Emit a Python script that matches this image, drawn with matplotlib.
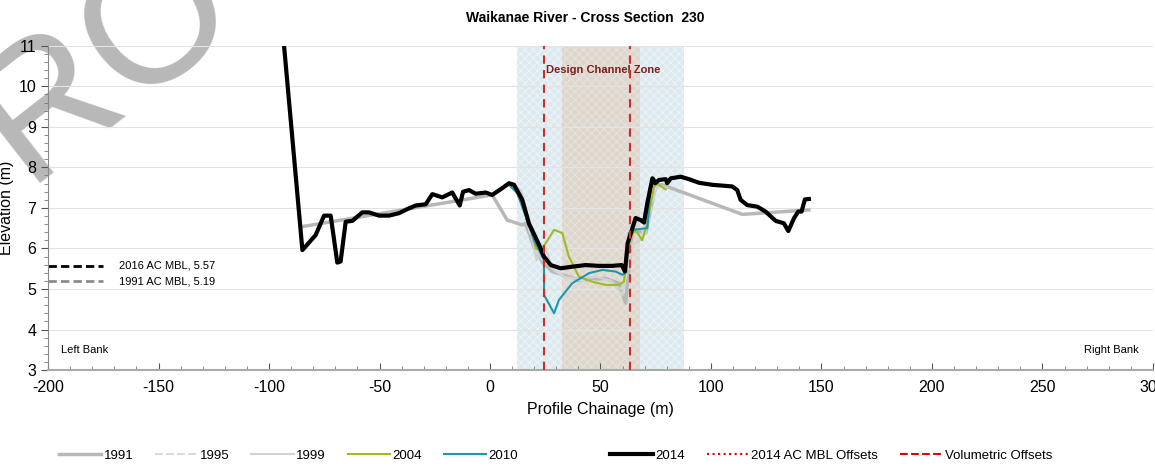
import matplotlib.pyplot as plt
from matplotlib.lines import Line2D

plt.rcParams['font.family'] = ['Liberation Sans', 'DejaVu Sans']
plt.rcParams['axes.unicode_minus'] = False

# survey data (chainage m, elevation m)
x_2014 = [-93.2, -84.9, -78.9, -75.1, -72.1, -69.1, -67.6, -65.3, -62.3, -57.8, -54.8, -50.2, -45.7,
          -41.2, -36.7, -33.6, -29.1, -26.1, -21.6, -17.1, -13.7, -12.2, -9.5, -6.5, -1.9, 1.0, 5.6,
          8.6, 10.9, 14.6, 17.6, 22.2, 24.4, 27.5, 32.0, 37.2, 43.3, 49.3, 55.3, 59.6, 61.1, 62.3,
          65.9, 68.2, 69.7, 71.2, 73.5, 74.7, 76.5, 79.5, 80.2, 81.8, 86.3, 90.0, 94.6, 100.6,
          109.6, 111.9, 113.4, 116.4, 121.0, 124.7, 129.3, 133.0, 135.0, 137.6, 139.5, 141.0,
          142.5, 144.3]
y_2014 = [11.0, 5.96, 6.33, 6.81, 6.81, 5.65, 5.68, 6.66, 6.68, 6.89, 6.89, 6.81, 6.81,
          6.87, 6.99, 7.06, 7.09, 7.34, 7.26, 7.38, 7.06, 7.40, 7.44, 7.35, 7.38, 7.32, 7.49,
          7.61, 7.57, 7.20, 6.62, 6.09, 5.80, 5.59, 5.51, 5.55, 5.59, 5.57, 5.57, 5.59, 5.43, 6.13,
          6.75, 6.70, 6.64, 7.12, 7.73, 7.61, 7.69, 7.71, 7.61, 7.73, 7.77, 7.71, 7.62, 7.57,
          7.53, 7.44, 7.20, 7.07, 7.03, 6.91, 6.68, 6.62, 6.43, 6.75, 6.91, 6.91,
          7.21, 7.22]

x_1991 = [-84.9, 1.0, 7.8, 14.6, 16.1, 20.5, 24.0, 28.2, 40.3, 52.3, 58.4, 61.4, 64.4, 70.5,
          75.0, 78.0, 114.2, 144.3]
y_1991 = [6.54, 7.32, 6.70, 6.58, 6.62, 5.95, 5.65, 5.43, 5.22, 5.26, 5.14, 4.65, 6.46, 6.38,
          7.57, 7.57, 6.84, 6.95]

x_1995 = [10.0, 14.0, 18.0, 21.0, 24.0, 28.0, 35.0, 45.0, 55.0, 60.0, 62.0, 65.0, 70.0, 75.0, 80.0]
y_1995 = [7.50, 7.30, 6.40, 5.90, 5.70, 5.55, 5.25, 5.20, 5.15, 5.00, 5.40, 6.20, 6.30, 7.50, 7.45]

x_1999 = [10.0, 14.0, 18.0, 21.0, 25.0, 28.0, 33.0, 40.0, 48.0, 55.0, 60.0, 62.0, 64.0, 68.0,
          72.0, 76.0, 80.0]
y_1999 = [7.50, 7.45, 6.60, 5.70, 6.05, 5.50, 5.30, 5.25, 5.30, 5.20, 4.85, 5.60, 6.10, 6.20,
          7.00, 7.55, 7.50]

x_2004 = [7.1, 8.6, 11.6, 16.9, 19.1, 20.7, 22.9, 25.2, 29.0, 32.7, 35.7, 40.3, 46.3, 52.3,
          58.4, 60.6, 62.1, 63.7, 65.9, 68.9, 71.2, 74.2, 75.7, 79.5]
y_2004 = [7.53, 7.57, 7.44, 6.79, 6.38, 6.00, 5.96, 6.13, 6.46, 6.38, 5.80, 5.30, 5.18, 5.10,
          5.10, 5.18, 5.80, 6.29, 6.46, 6.20, 6.62, 7.53, 7.59, 7.46]

x_2010 = [8.6, 12.4, 16.1, 20.0, 24.4, 24.5, 29.0, 31.2, 37.2, 44.8, 50.8, 56.9, 59.9, 61.0,
          62.9, 64.4, 71.2, 72.7, 74.2, 75.7]
y_2010 = [7.57, 7.36, 6.80, 6.20, 5.72, 4.85, 4.40, 4.73, 5.14, 5.39, 5.47, 5.43, 5.35, 5.39,
          6.38, 6.46, 6.50, 7.53, 7.73, 7.61]

mbl_2016 = 5.57
mbl_1991 = 5.19
volumetric_offsets = [24.4, 63.3]
outer_zone = (12.2, 87.8)
design_zone = (32.6, 67.9)

fig = plt.figure(figsize=(11.55, 4.72), dpi=100)
ax = fig.add_axes([0.0416, 0.216, 0.9566, 0.687])
ax.patch.set_alpha(0)

# watermark
fig.text(-0.132, 0.79, 'PRO', fontsize=132, color='#b8b8b8', rotation=38,
         ha='left', va='center', zorder=-1)

ax.axvspan(*outer_zone, ymin=0, ymax=1, facecolor='#dce9ef', edgecolor='#eaf2f5',
           hatch='xxxx', linewidth=0, zorder=0)
ax.axvspan(*design_zone, facecolor='#ddd6cd', edgecolor='#e6e0d8', hatch='xxxx',
           linewidth=0, zorder=0.5)
ax.text(25.3, 10.4, 'Design Channel Zone', color='#7a1f1f', fontsize=8,
        fontweight='bold', ha='left', va='center')

ax.plot(x_1991, y_1991, color='#b8b8b8', lw=2.5, zorder=2)
ax.plot(x_1995, y_1995, color='#dadada', lw=1.5, ls='--', zorder=2)
ax.plot(x_1999, y_1999, color='#d2d2d2', lw=1.5, zorder=2)
ax.plot(x_2004, y_2004, color='#9dbb22', lw=1.5, zorder=3)
ax.plot(x_2010, y_2010, color='#1d96ae', lw=1.5, zorder=3)
ax.plot(x_2014, y_2014, color='black', lw=3, zorder=4)

for xo in volumetric_offsets:
    ax.axvline(xo, color='#c8302c', lw=1.5, ls=(0, (4, 3)), zorder=5)

ax.plot([-200, -175], [mbl_2016, mbl_2016], color='black', lw=2, ls=(0, (3, 1.5)), clip_on=False)
ax.plot([-200, -175], [mbl_1991, mbl_1991], color='#8c8c8c', lw=2, ls=(0, (3, 1.5)), clip_on=False)
ax.text(-168, mbl_2016, '2016 AC MBL, %.2f' % mbl_2016, fontsize=8, va='center')
ax.text(-168, mbl_1991, '1991 AC MBL, %.2f' % mbl_1991, fontsize=8, va='center')

ax.text(-194, 3.5, 'Left Bank', fontsize=8, va='center')
ax.text(269, 3.5, 'Right Bank', fontsize=8, va='center')

ax.set_xlim(-200, 300)
ax.set_ylim(3, 11)
ax.set_xticks(range(-200, 301, 50))
ax.set_yticks(range(3, 12))
ax.set_xticks(range(-200, 301, 10), minor=True)
ax.set_yticks([3 + 0.2 * i for i in range(41)], minor=True)
ax.tick_params(labelsize=11.5, color='#555555', length=5)
ax.tick_params(which='minor', color='#777777', length=3)
ax.tick_params(axis='x', which='both', direction='in', pad=7)
ax.tick_params(axis='y', which='both', direction='out')
ax.grid(axis='y', color='#e3e3e3', lw=0.8)
ax.set_axisbelow(True)
for s in ['top', 'right']:
    ax.spines[s].set_visible(False)
ax.spines['left'].set_color('#888888')
ax.spines['bottom'].set_color('#aaaaaa')
ax.spines['bottom'].set_linewidth(1.5)

ax.set_xlabel('Profile Chainage (m)', fontsize=11.5, labelpad=5)
ax.set_ylabel('Elevation (m)', fontsize=11.5, labelpad=3)
fig.text(0.507, 0.962, 'Waikanae River - Cross Section  230', fontsize=10,
         fontweight='bold', ha='center', va='center')

handles = [
    Line2D([], [], color='#b8b8b8', lw=2.5),
    Line2D([], [], color='#dadada', lw=1.5, ls='--'),
    Line2D([], [], color='#d2d2d2', lw=1.5),
    Line2D([], [], color='#9dbb22', lw=1.5),
    Line2D([], [], color='#1d96ae', lw=1.5),
    Line2D([], [], color='none', lw=0),   # blank slot, as in the original legend
    Line2D([], [], color='black', lw=3),
    Line2D([], [], color='#e00000', lw=1.5, ls=':'),
    Line2D([], [], color='#e00000', lw=1.5, ls='--'),
]
labels = ['1991', '1995', '1999', '2004', '2010', ' ', '2014', '2014 AC MBL Offsets',
          'Volumetric Offsets']
fig.legend(handles, labels, loc='center', bbox_to_anchor=(0.481, 0.034), ncol=9,
           frameon=False, fontsize=9.5, handlelength=3.2, handletextpad=0.2, columnspacing=1.65)

fig.savefig('out.png', dpi=100)
